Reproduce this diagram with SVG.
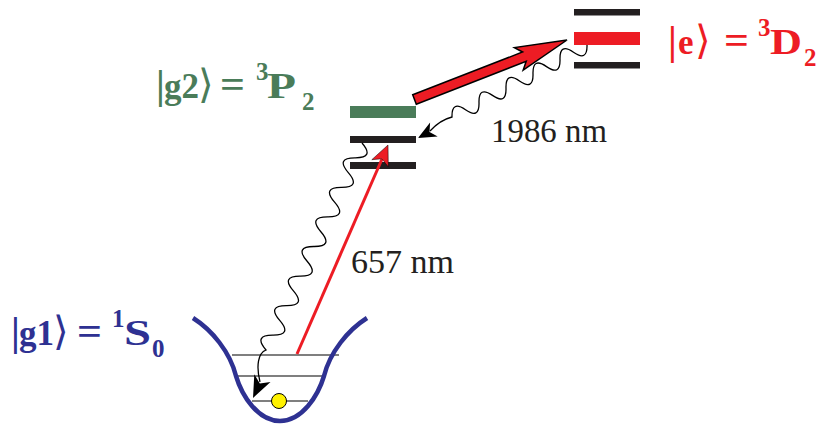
<svg xmlns="http://www.w3.org/2000/svg" width="835" height="425" viewBox="0 0 835 425">
<style>
text{font-family:'Liberation Serif','DejaVu Serif',serif}
.lbl{font-weight:bold}
.br{font-size:40px}
.ab{font-size:40px;font-weight:normal}
.mn{font-size:35px}
.eq{font-size:40px}
.cap{font-size:36px}
.sc{font-size:25px}
.nm{font-size:33px;fill:#231f20}
.wave{fill:none;stroke:#000;stroke-width:1.3}
.lvl{stroke:#000;stroke-width:1.2}
</style>
<rect width="835" height="425" fill="#fff"/>
<g id="state-e">
  <rect x="574" y="9" width="66" height="6.5" fill="#231f20"/>
  <rect x="574" y="32" width="66" height="13" fill="#ED1C24"/>
  <rect x="574" y="62" width="66" height="6.5" fill="#231f20"/>
  <text class="lbl" fill="#ED1C24" font-family="Liberation Serif, serif"><tspan class="br" x="668" y="54">|</tspan><tspan class="mn" x="678" y="54">e</tspan><tspan class="ab" x="695" y="54">⟩</tspan><tspan class="eq" x="724" y="54" textLength="25" lengthAdjust="spacingAndGlyphs">=</tspan><tspan class="sc" x="758" y="36">3</tspan><tspan class="cap" x="770" y="54" textLength="32" lengthAdjust="spacingAndGlyphs">D</tspan><tspan class="sc" x="804" y="66">2</tspan></text>
</g>
<g id="state-g2">
  <rect x="350" y="106" width="66" height="12" fill="#4A7C59"/>
  <rect x="350" y="136" width="66" height="7" fill="#231f20"/>
  <rect x="350" y="162" width="66" height="7" fill="#231f20"/>
  <text class="lbl" fill="#4A7C59" font-family="Liberation Serif, serif"><tspan class="br" x="156" y="98">|</tspan><tspan class="mn" x="164" y="98">g2</tspan><tspan class="ab" x="198" y="98">⟩</tspan><tspan class="eq" x="220" y="98" textLength="25" lengthAdjust="spacingAndGlyphs">=</tspan><tspan class="sc" x="256" y="80">3</tspan><tspan class="cap" x="267" y="98" textLength="29" lengthAdjust="spacingAndGlyphs">P</tspan><tspan class="sc" x="302" y="110">2</tspan></text>
</g>
<g id="state-g1">
  <line class="lvl" x1="232" y1="355" x2="339" y2="355"/>
  <line class="lvl" x1="237" y1="376" x2="323" y2="376"/>
  <line class="lvl" x1="252" y1="401" x2="308" y2="401"/>
  <path d="M193,318 C212,330 230,352 236,376 C242,396 258,421 280,421 C302,421 318,396 324,376 C330,352 348,330 367,318" fill="none" stroke="#2E3192" stroke-width="4.5"/>
  <circle cx="279" cy="401" r="7.5" fill="#FFF200" stroke="#000" stroke-width="1"/>
  <text class="lbl" fill="#2E3192" font-family="Liberation Serif, serif"><tspan class="br" x="11" y="345">|</tspan><tspan class="mn" x="19" y="345">g1</tspan><tspan class="ab" x="53" y="345">⟩</tspan><tspan class="eq" x="77" y="345" textLength="25" lengthAdjust="spacingAndGlyphs">=</tspan><tspan class="sc" x="112" y="327">1</tspan><tspan class="cap" x="124" y="345" textLength="27" lengthAdjust="spacingAndGlyphs">S</tspan><tspan class="sc" x="152" y="357">0</tspan></text>
</g>
<g id="connectors">
  <polygon points="412.7,94.8 522.6,52 514.4,47.6 567,40 523.2,70 526.2,61.3 416.3,104.2" fill="#ED1C24" stroke="#000" stroke-width="1.5" stroke-linejoin="miter"/>
  <line x1="297" y1="354" x2="382" y2="159" stroke="#ED1C24" stroke-width="3"/>
  <polygon points="388,145 388.3,166.9 382,158.8 371.8,159.7" fill="#ED1C24" stroke="#000" stroke-width="0.5"/>
  <path class="wave" d="M587,45 q0.5,17 -13.5,7.2 t-13.5,7.2 t-13.5,7.2 t-13.5,7.2 t-13.5,7.2 t-13.5,7.2 t-13.5,7.2 t-13.5,7.2 t-13.5,7.2 t-13.5,7.2 Q440,120 430,131"/>
  <polygon points="418,138 437.7,136.6 429.5,131.9 430.1,122.4" fill="#000"/>
  <path class="wave" d="M362,143 q12.9,14.9 -6.857,14.786 t-6.857,14.786 t-6.857,14.786 t-6.857,14.786 t-6.857,14.786 t-6.857,14.786 t-6.857,14.786 t-6.857,14.786 t-6.857,14.786 t-6.857,14.786 t-6.857,14.786 t-6.857,14.786 t-6.857,14.786 t-6.857,14.786 C258,353 256,366 260,382"/>
  <polygon points="253,398 270.5,381.9 259.8,383.5 254.3,374.3" fill="#000"/>
  <text class="nm" x="491" y="142" font-family="Liberation Serif, serif" textLength="116" lengthAdjust="spacingAndGlyphs">1986 nm</text>
  <text class="nm" x="351" y="273" font-family="Liberation Serif, serif" textLength="103" lengthAdjust="spacingAndGlyphs">657 nm</text>
</g>
</svg>
